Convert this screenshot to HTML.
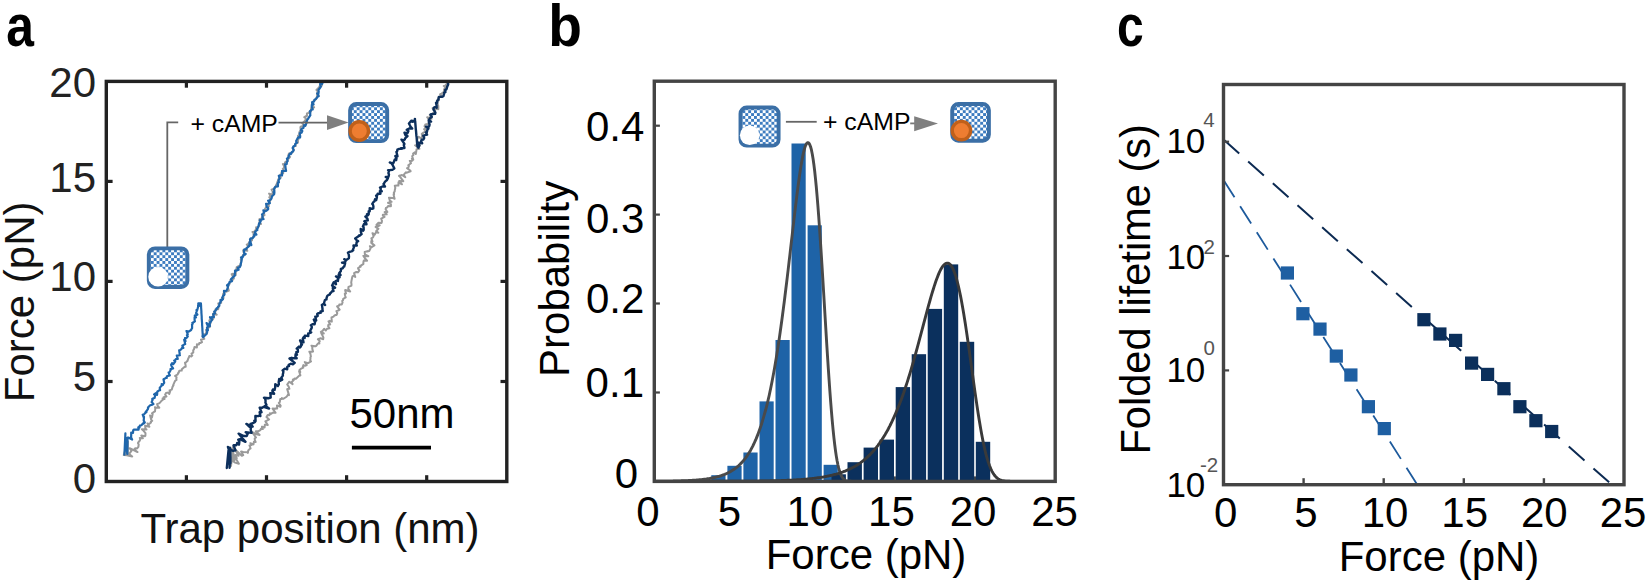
<!DOCTYPE html>
<html lang="en"><head><meta charset="utf-8"><title>Figure: cAMP force spectroscopy</title>
<style>html,body{margin:0;padding:0;background:#fff;}svg{display:block;}text{font-family:"Liberation Sans", sans-serif;}</style></head><body>
<svg width="1650" height="584" viewBox="0 0 1650 584">
<rect width="1650" height="584" fill="#fff"/>
<defs><pattern id="chk" width="5.8" height="5.8" patternUnits="userSpaceOnUse"><rect width="5.8" height="5.8" fill="#fff"/><rect width="2.9" height="2.9" fill="#3d7cc0"/><rect x="2.9" y="2.9" width="2.9" height="2.9" fill="#3d7cc0"/></pattern></defs>
<text transform="translate(6.3 46.0) scale(0.830 1)" x="0" y="0" font-size="60" font-weight="bold" fill="#000">a</text>
<text transform="translate(548.2 46.0) scale(0.920 1)" x="0" y="0" font-size="60" font-weight="bold" fill="#000">b</text>
<text transform="translate(1117.1 46.0) scale(0.800 1)" x="0" y="0" font-size="60" font-weight="bold" fill="#000">c</text>
<g fill="none" stroke-linejoin="round" stroke-linecap="round">
<path d="M126.4,454.6 L127.9,441.7 L127.7,454.9 L127.7,442.1 L123.8,455.1 L126.9,455.2 L132.2,456.6 L129.1,454.1 L130.1,452.6 L131.5,450.8 L129.6,448.2 L137.5,452.0 L134.2,449.6 L135.1,448.2 L137.1,448.4 L138.4,446.8 L138.7,444.4 L138.0,443.3 L138.1,442.7 L139.5,441.0 L140.2,439.8 L139.8,437.9 L142.9,438.2 L141.3,435.5 L145.0,436.3 L145.4,435.7 L145.5,433.2 L143.6,430.9 L141.9,429.2 L146.5,429.4 L145.4,428.5 L145.1,425.7 L149.4,426.7 L147.5,423.4 L149.2,424.1 L151.0,422.6 L150.8,421.9 L152.2,420.8 L151.2,419.7 L150.1,415.4 L152.0,417.4 L152.6,414.3 L152.0,413.3 L154.4,411.7 L155.0,411.3 L155.3,408.5 L155.0,407.2 L156.1,407.8 L159.3,407.7 L157.7,405.8 L157.1,404.2 L159.1,403.3 L160.2,402.4 L161.3,401.0 L162.9,399.7 L162.6,398.4 L164.6,399.0 L163.7,397.2 L166.5,396.5 L165.1,394.7 L166.0,393.1 L168.6,392.6 L169.3,394.0 L170.2,391.2 L169.6,390.4 L171.8,389.6 L172.5,386.9 L173.5,385.3 L173.1,385.1 L173.5,384.4 L174.7,381.7 L175.3,380.6 L176.5,379.9 L176.3,378.5 L176.6,377.3 L175.1,375.9 L177.4,374.7 L178.8,372.5 L177.9,373.3 L179.1,371.6 L179.3,370.8 L181.7,370.6 L181.8,369.2 L184.4,366.9 L185.7,366.8 L185.6,365.2 L185.0,362.8 L185.7,362.6 L187.5,360.7 L187.4,361.1 L188.4,358.2 L188.8,357.6 L189.4,355.9 L191.5,356.5 L192.3,355.5 L191.5,353.6 L193.1,352.7 L193.3,352.6 L193.2,350.4 L194.0,349.2 L194.5,347.0 L196.9,347.4 L196.9,344.2 L197.1,344.3 L198.9,344.4 L199.3,343.1 L200.7,342.9 L202.0,342.1 L201.0,339.7 L204.3,338.9 L202.6,336.5 L203.3,336.4 L203.7,334.3 L206.0,333.9 L206.1,333.8 L206.4,330.8 L206.1,330.2 L207.5,328.6 L207.8,328.3 L210.1,326.7 L209.0,324.4 L210.3,323.7 L210.6,322.7 L209.3,320.8 L210.3,318.8 L212.4,319.8 L213.6,318.1 L212.9,316.9 L213.0,313.7 L216.7,314.7 L215.6,313.6 L214.6,312.5 L215.4,311.7 L215.5,309.2 L218.2,309.2 L218.6,307.0 L218.8,306.5 L219.3,305.9 L218.3,303.5 L221.2,302.8 L220.7,302.4 L221.7,299.5 L222.1,298.7 L222.3,297.8 L223.6,297.9 L222.9,295.2 L223.3,293.6 L224.3,294.0 L223.8,291.5 L226.5,291.7 L228.8,290.6 L228.1,288.4 L227.6,286.5 L227.3,285.7 L229.2,284.6 L229.4,284.2 L229.8,282.7 L230.8,280.8 L230.4,280.0 L232.7,280.1 L233.2,278.0 L233.9,278.4 L231.7,274.2 L233.0,273.8 L235.7,275.0 L235.8,272.7 L235.6,271.1 L236.0,269.8 L236.5,268.4 L236.7,267.2 L240.0,265.4 L239.6,265.9 L240.9,264.6 L240.7,263.5 L241.3,260.3 L240.8,259.4 L241.6,259.1 L241.9,256.7 L242.5,256.4 L243.1,254.9 L244.7,255.2 L243.6,252.4 L243.2,250.3 L247.3,250.8 L246.4,248.0 L247.7,247.2 L248.4,246.3 L246.8,244.6 L247.7,244.3 L248.6,243.6 L248.8,242.6 L250.3,241.0 L252.0,240.4 L251.5,239.5 L252.6,237.7 L253.7,236.7 L253.5,234.4 L254.3,233.8 L252.5,232.0 L255.2,231.7 L254.6,231.2 L256.1,229.4 L256.1,227.2 L256.9,227.5 L258.8,226.3 L258.9,224.2 L261.1,223.9 L259.5,223.6 L259.5,219.0 L259.5,220.2 L261.5,218.3 L263.1,217.3 L262.1,216.6 L264.0,214.7 L264.5,215.2 L263.9,212.6 L264.3,211.1 L265.1,210.6 L265.1,208.5 L266.0,207.8 L266.9,205.6 L269.0,206.1 L268.1,205.5 L269.1,203.1 L269.2,202.6 L269.8,201.7 L270.9,199.1 L269.3,197.3 L270.6,196.3 L269.1,193.6 L272.3,194.6 L272.5,193.0 L273.3,192.7 L271.6,189.6 L275.0,188.2 L275.1,187.4 L274.6,187.5 L277.3,185.4 L275.9,185.4 L277.1,183.1 L277.2,182.4 L278.1,180.4 L278.3,179.3 L278.4,179.6 L280.8,177.8 L280.2,176.5 L280.3,174.7 L281.3,174.1 L281.5,172.4 L283.2,173.3 L283.3,169.2 L282.8,168.8 L283.6,168.7 L284.2,166.3 L282.9,164.0 L284.6,164.4 L285.5,161.7 L285.0,162.5 L287.5,160.7 L287.7,159.3 L287.8,159.6 L290.1,156.9 L288.2,155.9 L288.9,153.6 L291.6,153.6 L291.1,153.6 L293.0,151.5 L293.8,150.0 L293.1,148.8 L293.5,147.4 L294.6,145.8 L295.8,145.9 L295.7,145.0 L295.7,143.8 L297.9,142.6 L298.0,141.6 L298.1,139.4 L298.8,138.8 L298.0,135.8 L298.4,136.3 L299.0,135.6 L299.4,133.7 L299.4,132.1 L300.0,131.7 L300.8,131.1 L300.4,127.4 L300.6,126.7 L303.8,125.6 L303.8,125.3 L302.2,123.2 L303.9,121.9 L305.7,120.0 L305.5,119.8 L305.7,118.2 L304.3,117.1 L306.4,116.0 L307.0,116.0 L306.9,113.4 L308.4,113.0 L310.2,111.5 L311.1,111.2 L311.1,107.9 L311.5,108.5 L314.1,107.3 L312.8,105.7 L311.9,105.5 L312.0,102.7 L313.5,101.3 L314.1,100.4 L315.5,99.8 L316.2,98.7 L316.8,97.2 L317.2,94.9 L317.0,93.7 L317.1,93.5 L317.3,92.3 L317.9,89.4 L316.4,89.9 L317.9,88.6 L319.4,86.8 L319.4,86.5 L321.9,85.5 L320.6,83.3" stroke="#9a9a9a" stroke-width="2.0"/>
<path d="M124.4,454.6 L125.4,433.4 L124.7,451.7 L125.8,440.1 L127.3,454.0 L127.6,438.6 L126.1,441.5 L126.8,438.8 L127.5,437.5 L128.3,437.6 L132.1,439.5 L131.1,437.4 L131.2,435.0 L131.2,432.5 L133.0,432.8 L133.2,430.2 L133.7,429.7 L136.4,429.5 L138.6,429.7 L138.3,427.3 L139.5,427.6 L139.8,425.6 L141.4,425.2 L143.2,423.2 L143.8,423.6 L144.8,422.5 L143.7,420.6 L144.0,416.8 L143.8,417.6 L142.7,414.7 L143.2,415.2 L145.2,413.0 L146.4,412.2 L145.8,411.6 L146.8,410.8 L148.1,408.6 L148.0,407.5 L149.2,406.2 L150.2,405.3 L152.2,404.7 L153.4,404.1 L151.6,402.1 L152.6,399.9 L152.2,399.0 L153.2,398.3 L154.6,398.0 L155.2,395.2 L154.1,394.4 L155.9,393.2 L157.1,394.8 L157.3,391.7 L159.1,390.3 L160.1,390.1 L159.7,387.9 L160.9,386.4 L161.9,385.3 L161.7,384.2 L162.8,385.1 L163.2,384.1 L164.2,382.8 L163.5,379.2 L165.1,378.4 L165.7,378.0 L166.8,377.9 L166.8,376.3 L169.8,375.4 L169.3,374.5 L168.6,372.5 L169.5,372.2 L170.6,370.3 L170.5,369.1 L173.1,368.4 L171.5,366.0 L171.1,364.8 L172.1,363.2 L173.3,364.2 L175.2,361.5 L174.2,360.5 L175.0,360.4 L176.0,359.0 L177.8,359.0 L176.8,355.6 L178.4,355.5 L179.9,355.2 L179.7,354.2 L179.2,350.3 L180.1,350.0 L181.2,349.4 L182.1,347.8 L183.4,347.9 L182.3,345.7 L184.1,344.6 L185.2,344.1 L184.8,342.1 L184.2,339.9 L185.5,341.3 L185.0,338.1 L186.6,337.9 L187.8,336.3 L186.9,335.0 L187.8,334.3 L186.5,331.0 L188.7,331.6 L191.1,330.0 L192.0,328.2 L192.1,328.2 L192.1,325.5 L192.0,324.9 L192.8,323.5 L192.3,322.9 L193.9,322.0 L194.9,321.4 L194.6,320.0 L194.6,317.0 L196.0,317.3 L194.8,315.5 L197.4,314.6 L196.0,313.1 L196.8,311.4 L196.5,310.1 L197.2,310.2 L198.1,306.8 L198.1,305.1 L200.8,306.2 L198.3,303.4 L200.9,303.3 L201.0,304.6 L201.1,306.0 L201.1,307.3 L201.2,308.7 L201.3,310.0 L201.4,311.4 L201.4,312.7 L201.5,314.0 L201.6,315.4 L201.7,316.7 L201.7,318.1 L201.8,319.4 L201.9,320.8 L202.0,322.1 L202.1,323.4 L202.1,324.8 L202.2,326.1 L202.3,327.5 L202.4,328.8 L202.4,330.1 L202.5,331.5 L202.6,332.8 L202.7,334.2 L202.7,335.5 L202.8,336.9 L203.2,337.2 L202.5,336.0 L203.7,336.6 L204.9,335.5 L206.8,333.7 L206.9,332.8 L207.2,331.9 L206.8,329.3 L208.0,330.1 L207.0,327.4 L208.1,326.7 L206.6,323.0 L209.9,326.1 L209.7,322.3 L210.0,323.0 L212.1,319.6 L210.0,317.2 L212.4,317.9 L212.1,317.1 L214.0,317.0 L213.2,314.2 L215.0,313.2 L214.2,311.7 L215.0,311.0 L216.8,309.0 L216.5,308.4 L218.1,307.4 L218.1,306.6 L219.2,305.8 L219.5,303.6 L220.4,302.6 L220.5,299.8 L221.1,300.8 L221.8,300.2 L222.9,299.1 L222.2,297.7 L223.2,295.7 L224.3,295.0 L224.5,294.3 L224.0,290.9 L225.8,291.0 L226.5,290.6 L227.5,288.5 L227.7,288.1 L228.4,285.3 L227.0,285.4 L228.7,283.9 L229.4,282.8 L229.6,281.9 L232.0,281.1 L231.0,279.0 L232.6,277.7 L234.1,276.0 L234.0,276.4 L234.8,275.5 L234.7,274.1 L235.1,271.8 L235.0,270.7 L236.2,270.6 L238.6,269.8 L237.7,267.7 L239.8,267.1 L240.1,266.1 L240.6,265.8 L240.7,264.1 L241.3,262.0 L241.4,261.3 L241.8,258.8 L241.0,257.4 L242.6,257.4 L243.5,255.1 L245.7,254.0 L244.1,252.9 L244.0,250.2 L244.4,249.3 L246.0,249.4 L246.6,248.3 L248.3,246.7 L248.4,246.1 L249.3,246.2 L249.7,242.1 L251.4,245.0 L250.5,242.2 L250.0,239.4 L250.7,238.3 L252.6,238.3 L253.7,236.4 L254.3,236.4 L254.2,234.7 L256.4,234.6 L254.9,232.3 L256.3,230.6 L257.4,230.0 L257.0,229.2 L257.7,228.1 L258.8,225.3 L258.6,225.6 L259.1,223.1 L259.7,223.1 L260.7,221.3 L259.8,220.2 L263.6,219.0 L262.4,219.1 L262.6,216.1 L262.0,214.4 L262.8,213.8 L264.0,212.7 L263.4,210.3 L265.4,211.2 L267.0,210.3 L268.2,209.1 L268.1,207.6 L266.8,207.3 L266.1,203.9 L268.3,203.6 L269.9,203.2 L268.1,200.6 L269.4,200.6 L270.9,199.2 L271.5,198.5 L272.1,196.1 L273.4,195.0 L274.2,194.1 L273.6,192.1 L274.4,192.9 L274.3,189.6 L273.9,189.7 L274.5,188.1 L275.5,186.6 L277.9,186.4 L278.0,184.5 L277.6,184.2 L278.2,182.3 L278.9,182.4 L278.6,180.3 L279.7,178.5 L279.5,178.4 L278.8,175.8 L280.8,175.3 L282.0,175.5 L282.2,171.7 L282.0,171.1 L284.3,170.8 L286.1,170.9 L285.5,167.7 L285.5,166.9 L285.1,164.4 L286.6,164.2 L286.8,163.2 L286.9,161.9 L287.7,161.0 L286.9,158.7 L288.3,157.4 L288.3,158.1 L289.1,155.0 L290.2,153.4 L290.8,154.1 L291.7,152.2 L293.1,151.3 L293.7,150.1 L292.6,148.0 L293.5,146.3 L294.9,145.9 L295.3,143.8 L296.9,142.6 L296.3,142.8 L296.2,140.7 L296.8,139.7 L297.5,138.4 L298.8,137.1 L300.1,137.5 L300.2,136.2 L299.7,133.2 L301.6,132.7 L302.3,131.0 L300.7,130.6 L301.3,129.4 L302.2,128.4 L303.4,127.9 L304.1,125.1 L305.4,125.8 L306.6,122.7 L305.7,122.3 L306.5,122.2 L307.5,119.2 L308.2,118.8 L308.4,118.0 L308.8,117.6 L310.4,115.2 L310.2,114.5 L310.3,111.6 L309.8,111.4 L311.5,109.8 L312.7,109.5 L312.3,107.9 L311.7,106.5 L312.0,104.2 L313.6,104.4 L312.1,102.2 L314.1,101.4 L314.5,99.7 L315.8,99.1 L316.5,98.2 L317.5,96.9 L318.8,96.0 L317.2,93.5 L318.3,94.3 L318.7,91.5 L318.6,90.8 L318.5,90.0 L320.9,86.6 L320.6,86.2 L320.1,84.0 L322.1,83.9 L322.4,83.3" stroke="#1f66ab" stroke-width="2.2"/>
<path d="M231.0,465.9 L232.5,453.5 L232.1,461.3 L232.6,447.3 L234.4,460.3 L231.1,459.7 L235.1,462.6 L238.9,463.7 L233.5,454.8 L236.8,458.2 L235.3,455.1 L238.6,455.8 L234.4,448.8 L241.8,455.8 L243.2,455.1 L241.1,451.5 L243.3,451.9 L247.7,452.2 L247.9,452.9 L248.2,450.5 L250.3,448.4 L250.6,448.5 L249.5,445.4 L251.6,445.1 L250.4,443.2 L253.5,444.4 L253.9,441.7 L255.7,442.1 L254.8,439.9 L254.7,438.3 L256.0,437.5 L251.9,431.8 L256.5,434.3 L259.7,434.9 L255.7,431.3 L258.5,431.2 L260.4,430.1 L260.9,428.8 L262.8,429.1 L262.0,426.6 L264.6,427.5 L264.8,424.7 L266.0,424.5 L267.8,425.0 L265.4,421.4 L267.4,420.3 L269.1,419.4 L266.5,417.1 L267.7,414.9 L269.3,415.2 L269.9,413.2 L270.2,414.4 L272.8,412.7 L275.6,412.8 L272.6,408.6 L275.7,408.7 L275.3,408.6 L277.2,408.5 L277.0,405.4 L280.3,406.8 L280.7,405.7 L278.8,402.9 L279.8,402.0 L280.3,398.9 L281.9,398.9 L281.9,398.1 L283.2,398.8 L286.2,397.0 L286.8,396.3 L287.8,395.0 L287.9,394.5 L289.0,395.1 L287.2,389.1 L287.9,389.0 L289.4,388.8 L288.7,386.6 L287.2,384.5 L289.3,381.7 L292.6,384.1 L291.5,382.2 L293.8,380.1 L292.9,379.5 L293.9,379.3 L294.7,378.5 L295.9,378.9 L297.8,377.0 L299.4,375.6 L300.4,375.4 L299.1,371.2 L300.3,372.1 L299.5,370.0 L300.7,368.9 L303.3,367.7 L302.7,367.4 L303.4,365.1 L304.9,365.8 L306.8,365.0 L304.8,362.1 L308.1,363.1 L311.0,361.4 L310.2,360.4 L310.5,358.7 L310.4,357.3 L310.9,356.7 L310.4,353.7 L309.4,351.7 L312.1,351.8 L313.0,351.6 L312.3,348.8 L312.3,347.0 L311.5,345.7 L315.4,346.3 L316.2,345.9 L317.9,343.5 L319.4,343.5 L318.8,342.9 L319.8,341.1 L317.9,339.2 L320.6,338.3 L323.2,339.2 L323.4,337.4 L321.3,333.3 L323.8,333.4 L320.9,331.8 L322.6,330.8 L324.1,328.8 L325.8,330.5 L327.0,328.7 L329.5,328.2 L328.1,326.1 L328.4,324.8 L330.2,324.5 L328.5,321.3 L329.7,320.8 L331.8,321.7 L331.6,318.9 L331.5,317.5 L333.5,316.6 L334.3,315.7 L335.6,315.0 L336.6,314.9 L337.3,313.1 L336.4,311.1 L338.9,310.2 L339.6,309.7 L338.6,308.3 L337.1,306.4 L339.2,305.5 L339.3,304.4 L341.8,304.4 L342.6,302.3 L342.2,301.0 L343.0,300.3 L343.2,298.8 L345.7,297.4 L345.2,296.0 L344.8,293.8 L345.1,293.9 L346.0,293.4 L345.2,290.6 L345.2,290.0 L350.2,291.5 L348.3,288.9 L348.5,286.9 L351.1,285.8 L351.4,285.8 L351.5,284.1 L351.2,282.5 L351.4,281.4 L351.7,279.7 L352.1,277.7 L352.5,276.4 L353.4,275.7 L355.3,277.0 L354.1,273.2 L356.3,272.0 L357.9,272.4 L358.7,271.3 L359.4,270.4 L358.1,268.7 L358.2,267.9 L360.7,266.6 L360.0,266.2 L362.8,264.4 L363.4,264.1 L363.4,261.9 L363.8,260.5 L367.1,260.7 L365.1,258.5 L363.4,255.9 L368.3,256.2 L364.9,254.5 L364.7,252.0 L367.6,251.1 L367.1,251.5 L369.2,251.0 L370.7,248.0 L369.9,246.2 L371.7,247.1 L374.0,245.7 L374.4,245.4 L371.3,242.9 L371.3,240.9 L372.5,241.6 L371.4,238.4 L373.0,237.4 L373.6,236.1 L372.5,233.2 L374.8,234.6 L376.0,232.1 L378.3,232.7 L376.3,231.0 L378.4,228.8 L375.6,227.0 L378.6,226.0 L379.7,225.3 L376.4,225.0 L378.5,222.7 L381.5,223.0 L381.8,222.1 L382.0,220.9 L381.2,218.7 L384.5,216.8 L382.8,215.5 L382.9,214.7 L386.7,214.3 L384.6,212.1 L387.4,212.0 L385.6,209.3 L385.9,208.0 L386.9,207.6 L388.2,206.0 L390.9,206.2 L390.9,204.1 L388.0,202.8 L391.6,201.9 L389.8,200.6 L389.0,197.7 L393.0,197.9 L394.6,198.8 L393.6,194.7 L394.0,193.1 L394.1,194.1 L393.8,192.8 L394.7,191.4 L394.8,190.1 L395.3,188.0 L394.8,185.8 L397.0,185.6 L398.4,185.6 L398.5,182.3 L402.0,184.3 L399.2,181.0 L403.3,181.2 L399.3,175.8 L399.0,175.9 L402.0,175.0 L405.3,177.3 L403.7,174.8 L405.8,172.3 L406.4,172.7 L410.6,171.4 L410.5,170.8 L407.1,168.1 L408.0,168.5 L408.9,165.9 L408.3,165.3 L411.0,163.2 L409.8,160.9 L411.7,160.9 L412.6,160.3 L411.9,158.7 L413.3,159.7 L412.2,156.3 L413.5,154.9 L413.1,153.6 L414.8,152.4 L415.8,154.0 L416.2,151.9 L416.6,149.2 L419.4,148.8 L415.1,145.3 L419.0,145.7 L420.0,145.5 L418.1,143.1 L417.1,140.3 L417.5,138.7 L418.4,136.7 L421.4,138.6 L422.2,136.0 L421.8,133.7 L421.7,134.0 L423.5,132.6 L424.5,132.0 L426.8,131.8 L424.1,129.2 L425.7,128.4 L424.5,126.0 L424.9,125.5 L425.3,124.5 L429.3,123.7 L428.8,122.5 L429.5,121.7 L428.9,119.6 L427.2,117.2 L431.5,118.8 L429.8,115.0 L431.0,114.5 L432.6,113.7 L433.4,112.9 L434.9,112.8 L435.3,109.1 L432.6,108.1 L434.1,108.1 L438.3,109.3 L438.3,105.9 L437.5,104.0 L436.6,103.5 L437.2,101.8 L438.9,100.3 L437.6,99.6 L438.6,97.4 L438.7,97.1 L441.3,96.7 L440.1,94.3 L441.5,93.8 L442.7,92.6 L444.1,92.9 L444.0,89.7 L444.8,88.1 L446.1,87.9 L443.8,86.0 L446.5,86.1 L445.4,85.3 L447.2,83.3" stroke="#9a9a9a" stroke-width="2.0"/>
<path d="M226.8,468.0 L228.5,450.4 L228.3,463.6 L229.9,447.6 L229.6,467.8 L230.4,448.8 L230.4,463.2 L229.6,452.1 L227.9,446.9 L231.5,450.2 L233.1,450.8 L235.5,450.4 L233.5,445.3 L236.2,445.2 L236.8,444.5 L237.2,442.9 L239.0,444.7 L239.4,441.6 L238.2,439.7 L240.0,439.2 L245.5,441.8 L242.2,438.1 L238.6,433.6 L243.8,436.0 L246.7,436.0 L247.8,433.6 L245.7,432.2 L247.6,432.4 L251.6,432.9 L250.7,429.7 L250.9,428.0 L246.4,423.9 L251.7,426.7 L252.7,426.6 L250.6,423.8 L252.8,423.2 L255.1,421.9 L254.3,420.8 L255.6,421.0 L255.4,417.4 L255.4,416.0 L258.4,416.1 L259.3,415.4 L260.4,416.1 L259.6,412.1 L261.2,411.7 L261.5,412.3 L259.7,407.7 L262.2,407.8 L263.7,406.8 L269.1,408.5 L265.1,405.7 L266.5,405.0 L265.4,402.6 L265.6,400.9 L265.1,398.5 L264.0,397.7 L268.9,398.2 L269.5,397.9 L270.7,397.5 L270.5,394.4 L270.2,393.1 L274.1,393.7 L272.3,390.9 L272.9,389.5 L274.6,389.9 L275.2,387.2 L275.2,386.5 L275.3,384.1 L277.9,386.0 L278.9,384.1 L278.7,382.4 L278.7,381.9 L279.2,378.9 L280.3,380.7 L282.2,379.6 L281.3,377.8 L282.9,375.6 L282.8,374.1 L283.2,373.1 L283.4,371.0 L282.6,370.5 L284.8,368.7 L287.2,369.3 L287.2,367.0 L288.3,366.1 L289.1,366.1 L288.7,364.7 L290.7,363.7 L292.9,364.3 L294.7,362.8 L289.5,358.5 L291.7,357.8 L292.5,358.3 L296.7,358.3 L295.4,356.5 L295.6,354.2 L297.0,354.8 L296.3,352.1 L297.9,351.9 L297.8,349.3 L296.7,348.6 L298.9,346.5 L299.8,347.6 L300.9,346.5 L301.2,344.2 L302.0,344.7 L300.1,340.4 L303.5,342.3 L302.8,338.7 L303.7,337.1 L304.7,337.9 L304.8,335.6 L308.3,336.0 L308.2,333.5 L308.7,333.5 L311.2,332.3 L310.2,332.0 L310.0,330.9 L310.8,329.6 L311.8,327.6 L311.6,325.0 L310.8,325.2 L312.8,324.1 L314.6,324.2 L315.0,322.2 L313.8,319.5 L316.2,320.5 L315.3,316.7 L315.5,317.2 L317.7,315.9 L317.2,314.1 L317.7,313.5 L320.9,312.7 L320.5,311.4 L322.8,311.0 L322.4,310.9 L322.5,308.9 L322.1,305.8 L321.8,304.9 L323.7,303.7 L325.1,305.0 L323.9,303.5 L324.9,300.0 L326.5,299.4 L326.5,298.4 L327.1,296.2 L327.7,295.5 L329.8,294.4 L330.0,293.5 L330.9,292.8 L332.1,291.3 L333.5,291.1 L332.9,288.9 L332.8,288.0 L335.1,287.7 L332.1,285.6 L333.7,282.3 L336.0,284.3 L335.4,281.3 L337.3,280.3 L337.9,281.0 L338.3,278.4 L336.0,276.4 L339.6,277.2 L338.7,274.4 L340.6,275.1 L339.3,273.0 L340.9,271.0 L340.8,269.0 L341.8,268.7 L342.8,268.1 L343.4,267.1 L344.2,266.6 L345.1,263.4 L342.0,262.7 L345.1,262.3 L346.0,260.1 L344.2,259.2 L346.3,260.0 L348.8,258.3 L349.0,256.5 L348.7,254.2 L347.9,252.7 L350.3,251.6 L351.5,251.4 L353.2,250.2 L352.8,250.0 L354.0,247.1 L353.5,246.0 L353.5,245.4 L356.8,245.6 L356.3,245.0 L356.6,242.3 L358.2,241.1 L357.8,241.5 L355.2,238.5 L358.5,236.3 L358.9,235.4 L359.5,235.8 L361.6,234.1 L360.9,232.1 L360.7,229.0 L363.2,230.7 L363.7,229.9 L363.6,227.0 L362.9,226.4 L364.0,224.0 L366.5,224.4 L366.1,222.8 L364.3,221.2 L367.8,220.4 L367.4,218.6 L365.4,216.6 L368.0,215.3 L367.0,214.2 L368.7,214.4 L368.7,211.2 L369.7,211.2 L369.7,208.1 L372.1,208.8 L373.3,208.4 L373.4,206.2 L373.0,204.7 L372.3,203.9 L373.4,202.1 L374.5,201.2 L375.0,199.3 L376.1,200.3 L376.9,197.5 L376.1,195.5 L377.0,195.8 L377.7,193.6 L380.5,193.7 L379.9,191.2 L381.8,191.2 L380.5,190.2 L380.8,188.9 L380.0,187.5 L382.4,186.5 L385.0,186.6 L383.5,184.0 L384.1,183.3 L384.8,182.0 L385.3,181.4 L387.0,180.0 L387.9,178.2 L385.7,177.0 L388.5,176.8 L389.0,174.6 L388.4,173.0 L389.1,170.6 L388.1,170.1 L390.0,170.1 L392.4,169.7 L394.3,168.4 L392.5,164.8 L391.6,163.4 L389.8,162.5 L392.9,163.6 L393.5,162.8 L394.8,159.4 L396.2,160.1 L396.5,158.4 L395.3,156.0 L397.5,156.3 L396.9,153.7 L396.4,151.9 L397.0,151.7 L397.4,149.7 L399.2,148.9 L401.7,148.9 L400.8,148.2 L404.5,148.0 L403.8,144.9 L404.4,144.0 L403.6,142.7 L401.5,139.6 L402.9,140.6 L404.8,139.5 L405.1,138.4 L407.5,136.1 L405.5,135.2 L404.5,132.7 L407.4,133.2 L408.4,130.9 L406.7,129.8 L409.6,128.3 L412.2,128.6 L410.4,126.4 L410.0,125.5 L408.9,123.5 L410.8,121.4 L412.9,121.8 L411.2,120.8 L415.0,121.1 L414.9,118.9 L415.0,120.2 L415.1,121.5 L415.3,122.8 L415.4,124.1 L415.5,125.4 L415.6,126.7 L415.7,128.0 L415.8,129.3 L416.0,130.6 L416.1,131.9 L416.2,133.2 L416.3,134.4 L416.4,135.7 L416.6,137.0 L416.7,138.3 L416.8,139.6 L416.9,140.9 L417.0,142.2 L417.1,143.5 L417.3,144.8 L417.4,146.1 L418.3,147.7 L418.8,147.1 L419.3,145.7 L418.8,142.8 L422.2,143.4 L421.1,141.3 L421.7,139.8 L423.4,139.6 L424.2,137.9 L423.7,136.8 L423.3,135.7 L427.1,134.7 L425.9,132.4 L426.6,133.2 L427.3,130.3 L427.4,129.6 L428.4,128.6 L426.1,126.6 L429.1,126.5 L429.6,124.7 L428.8,121.7 L431.1,121.6 L428.7,120.4 L429.8,118.6 L430.5,117.8 L431.8,116.9 L430.5,114.5 L432.6,114.0 L435.1,113.9 L435.4,112.7 L433.4,109.3 L434.0,107.6 L436.5,106.4 L436.7,107.7 L436.5,105.0 L436.0,102.8 L437.3,102.9 L437.0,101.0 L438.6,99.4 L438.7,97.7 L438.9,96.9 L442.0,96.8 L443.4,96.2 L444.0,94.1 L444.4,92.4 L444.2,92.6 L445.4,92.2 L445.2,89.9 L446.5,89.3 L447.0,87.5 L447.3,86.4 L448.2,84.5 L448.1,83.3" stroke="#0c2f5c" stroke-width="2.4"/>
</g>
<rect x="106.3" y="81.4" width="400.5" height="400.1" fill="none" stroke="#222" stroke-width="3.4"/>
<line x1="186.4" y1="81.4" x2="186.4" y2="87.7" stroke="#222" stroke-width="3.2"/>
<line x1="186.4" y1="481.5" x2="186.4" y2="475.2" stroke="#222" stroke-width="3.2"/>
<line x1="266.5" y1="81.4" x2="266.5" y2="87.7" stroke="#222" stroke-width="3.2"/>
<line x1="266.5" y1="481.5" x2="266.5" y2="475.2" stroke="#222" stroke-width="3.2"/>
<line x1="346.6" y1="81.4" x2="346.6" y2="87.7" stroke="#222" stroke-width="3.2"/>
<line x1="346.6" y1="481.5" x2="346.6" y2="475.2" stroke="#222" stroke-width="3.2"/>
<line x1="426.7" y1="81.4" x2="426.7" y2="87.7" stroke="#222" stroke-width="3.2"/>
<line x1="426.7" y1="481.5" x2="426.7" y2="475.2" stroke="#222" stroke-width="3.2"/>
<line x1="106.3" y1="381.5" x2="112.6" y2="381.5" stroke="#222" stroke-width="3.2"/>
<line x1="506.8" y1="381.5" x2="500.5" y2="381.5" stroke="#222" stroke-width="3.2"/>
<line x1="106.3" y1="281.4" x2="112.6" y2="281.4" stroke="#222" stroke-width="3.2"/>
<line x1="506.8" y1="281.4" x2="500.5" y2="281.4" stroke="#222" stroke-width="3.2"/>
<line x1="106.3" y1="181.4" x2="112.6" y2="181.4" stroke="#222" stroke-width="3.2"/>
<line x1="506.8" y1="181.4" x2="500.5" y2="181.4" stroke="#222" stroke-width="3.2"/>
<text x="96" y="493.2" font-size="42" text-anchor="end" fill="#222">0</text>
<text x="96" y="391.3" font-size="42" text-anchor="end" fill="#222">5</text>
<text x="96" y="291.3" font-size="42" text-anchor="end" fill="#222">10</text>
<text x="96" y="192" font-size="42" text-anchor="end" fill="#222">15</text>
<text x="96" y="96.8" font-size="42" text-anchor="end" fill="#222">20</text>
<text x="34.3" y="301.9" font-size="42" text-anchor="middle" fill="#111" transform="rotate(-90 34.3 301.9)">Force (pN)</text>
<text x="310" y="542.7" font-size="42" text-anchor="middle" fill="#111">Trap position (nm)</text>
<text x="349.5" y="428.3" font-size="42" fill="#000">50nm</text>
<line x1="351.9" y1="447.7" x2="431" y2="447.7" stroke="#000" stroke-width="3.8"/>
<path d="M178.2,122.3 H167.3 V247" fill="none" stroke="#666" stroke-width="1.8"/>
<text x="190.4" y="132.1" font-size="24.8" fill="#000">+ cAMP</text>
<line x1="278.5" y1="122.6" x2="328" y2="122.6" stroke="#666" stroke-width="1.8"/>
<path d="M327.0,115.2 L348.6,122.6 L327.0,130 Z" fill="#7f7f7f"/>
<rect x="148.8" y="248.4" width="38.6" height="38.6" rx="6.2" ry="6.2" fill="url(#chk)" stroke="#3b6fa6" stroke-width="3.9"/>
<circle cx="158.1" cy="276.8" r="9.8" fill="#fff"/>
<rect x="350.1" y="104" width="37.1" height="37.1" rx="6.2" ry="6.2" fill="url(#chk)" stroke="#3b6fa6" stroke-width="3.9"/>
<circle cx="359.3" cy="131" r="9.2" fill="#ee7d31" stroke="#c0601a" stroke-width="3.4"/>
<line x1="734.5" y1="481.4" x2="734.5" y2="476.4" stroke="#444" stroke-width="2.2"/>
<line x1="814.7" y1="481.4" x2="814.7" y2="476.4" stroke="#444" stroke-width="2.2"/>
<line x1="894.8" y1="481.4" x2="894.8" y2="476.4" stroke="#444" stroke-width="2.2"/>
<line x1="975" y1="481.4" x2="975" y2="476.4" stroke="#444" stroke-width="2.2"/>
<rect x="711.3" y="475.2" width="14.2" height="6.2" fill="#1e63a7"/>
<rect x="727.4" y="465.8" width="14.2" height="15.6" fill="#1e63a7"/>
<rect x="743.4" y="452.5" width="14.2" height="28.9" fill="#1e63a7"/>
<rect x="759.5" y="401.4" width="14.2" height="80" fill="#1e63a7"/>
<rect x="775.5" y="340" width="14.2" height="141.4" fill="#1e63a7"/>
<rect x="791.5" y="143.5" width="14.2" height="337.9" fill="#1e63a7"/>
<rect x="807.6" y="225.3" width="14.2" height="256.1" fill="#1e63a7"/>
<rect x="823.6" y="464.8" width="14.2" height="16.6" fill="#1e63a7"/>
<rect x="831.5" y="474.3" width="14.4" height="7.1" fill="#0b305d"/>
<rect x="847.5" y="462.2" width="14.4" height="19.2" fill="#0b305d"/>
<rect x="863.6" y="447.6" width="14.4" height="33.8" fill="#0b305d"/>
<rect x="879.6" y="439.6" width="14.4" height="41.8" fill="#0b305d"/>
<rect x="895.7" y="387.1" width="14.4" height="94.3" fill="#0b305d"/>
<rect x="911.7" y="354.2" width="14.4" height="127.2" fill="#0b305d"/>
<rect x="927.7" y="308.9" width="14.4" height="172.5" fill="#0b305d"/>
<rect x="943.8" y="264.4" width="14.4" height="217" fill="#0b305d"/>
<rect x="959.8" y="341.8" width="14.4" height="139.6" fill="#0b305d"/>
<rect x="975.8" y="441.8" width="14.4" height="39.6" fill="#0b305d"/>
<path d="M654.3,481.3 L655.1,481.3 L655.9,481.3 L656.7,481.3 L657.5,481.3 L658.3,481.3 L659.1,481.2 L659.9,481.2 L660.7,481.2 L661.5,481.2 L662.3,481.2 L663.1,481.2 L663.9,481.2 L664.7,481.2 L665.5,481.2 L666.3,481.2 L667.1,481.2 L667.9,481.1 L668.7,481.1 L669.5,481.1 L670.3,481.1 L671.1,481.1 L671.9,481.1 L672.7,481.1 L673.5,481.0 L674.3,481.0 L675.1,481.0 L675.9,481.0 L676.8,481.0 L677.6,480.9 L678.4,480.9 L679.2,480.9 L680.0,480.9 L680.8,480.9 L681.6,480.8 L682.4,480.8 L683.2,480.8 L684.0,480.7 L684.8,480.7 L685.6,480.7 L686.4,480.6 L687.2,480.6 L688.0,480.6 L688.8,480.5 L689.6,480.5 L690.4,480.4 L691.2,480.4 L692.0,480.4 L692.8,480.3 L693.6,480.2 L694.4,480.2 L695.2,480.1 L696.0,480.1 L696.8,480.0 L697.6,479.9 L698.4,479.9 L699.2,479.8 L700.0,479.7 L700.8,479.6 L701.6,479.6 L702.4,479.5 L703.2,479.4 L704.0,479.3 L704.8,479.2 L705.6,479.1 L706.4,479.0 L707.2,478.8 L708.0,478.7 L708.8,478.6 L709.6,478.5 L710.4,478.3 L711.2,478.2 L712.0,478.0 L712.8,477.9 L713.6,477.7 L714.4,477.5 L715.2,477.3 L716.0,477.1 L716.8,476.9 L717.6,476.7 L718.4,476.5 L719.2,476.3 L720.0,476.0 L720.8,475.8 L721.7,475.5 L722.5,475.2 L723.3,474.9 L724.1,474.6 L724.9,474.3 L725.7,473.9 L726.5,473.6 L727.3,473.2 L728.1,472.8 L728.9,472.4 L729.7,472.0 L730.5,471.5 L731.3,471.1 L732.1,470.6 L732.9,470.1 L733.7,469.5 L734.5,469.0 L735.3,468.4 L736.1,467.8 L736.9,467.1 L737.7,466.5 L738.5,465.8 L739.3,465.0 L740.1,464.2 L740.9,463.4 L741.7,462.6 L742.5,461.7 L743.3,460.8 L744.1,459.8 L744.9,458.8 L745.7,457.8 L746.5,456.7 L747.3,455.5 L748.1,454.3 L748.9,453.0 L749.7,451.7 L750.5,450.4 L751.3,448.9 L752.1,447.4 L752.9,445.9 L753.7,444.2 L754.5,442.5 L755.3,440.7 L756.1,438.9 L756.9,436.9 L757.7,434.9 L758.5,432.8 L759.3,430.6 L760.1,428.3 L760.9,426.0 L761.7,423.5 L762.5,420.9 L763.3,418.2 L764.1,415.4 L764.9,412.5 L765.8,409.5 L766.6,406.3 L767.4,403.1 L768.2,399.7 L769.0,396.2 L769.8,392.5 L770.6,388.7 L771.4,384.8 L772.2,380.7 L773.0,376.5 L773.8,372.2 L774.6,367.7 L775.4,363.0 L776.2,358.2 L777.0,353.3 L777.8,348.2 L778.6,343.0 L779.4,337.6 L780.2,332.0 L781.0,326.3 L781.8,320.5 L782.6,314.5 L783.4,308.4 L784.2,302.2 L785.0,295.8 L785.8,289.3 L786.6,282.8 L787.4,276.1 L788.2,269.3 L789.0,262.5 L789.8,255.6 L790.6,248.7 L791.4,241.7 L792.2,234.8 L793.0,227.8 L793.8,220.9 L794.6,214.1 L795.4,207.4 L796.2,200.8 L797.0,194.4 L797.8,188.2 L798.6,182.2 L799.4,176.4 L800.2,171.0 L801.0,165.9 L801.8,161.2 L802.6,156.9 L803.4,153.1 L804.2,149.8 L805.0,147.1 L805.8,145.0 L806.6,143.5 L807.4,142.7 L808.2,142.6 L809.0,143.3 L809.8,144.8 L810.7,147.1 L811.5,150.2 L812.3,154.2 L813.1,159.0 L813.9,164.8 L814.7,171.3 L815.5,178.8 L816.3,187.0 L817.1,196.1 L817.9,205.9 L818.7,216.4 L819.5,227.6 L820.3,239.3 L821.1,251.5 L821.9,264.2 L822.7,277.2 L823.5,290.3 L824.3,303.7 L825.1,317.0 L825.9,330.2 L826.7,343.3 L827.5,356.0 L828.3,368.3 L829.1,380.2 L829.9,391.5 L830.7,402.2 L831.5,412.2 L832.3,421.4 L833.1,429.9 L833.9,437.6 L834.7,444.5 L835.5,450.7 L836.3,456.1 L837.1,460.8 L837.9,464.8 L838.7,468.2 L839.5,471.1 L840.3,473.4 L841.1,475.3 L841.9,476.8 L842.7,478.0 L843.5,478.9 L844.3,479.7 L845.1,480.2 L845.9,480.6 L846.7,480.8 L847.5,481.0 L848.3,481.2 L849.1,481.2 L849.9,481.3 L850.7,481.3 L851.5,481.4 L852.3,481.4 L853.1,481.4 L853.9,481.4 L854.8,481.4 L855.6,481.4 L856.4,481.4 L857.2,481.4 L858.0,481.4 L858.8,481.4 L859.6,481.4 L860.4,481.4 L861.2,481.4 L862.0,481.4 L862.8,481.4 L863.6,481.4 L864.4,481.4 L865.2,481.4 L866.0,481.4 L866.8,481.4 L867.6,481.4 L868.4,481.4 L869.2,481.4 L870.0,481.4 L870.8,481.4 L871.6,481.4 L872.4,481.4 L873.2,481.4 L874.0,481.4 L874.8,481.4 L875.6,481.4 L876.4,481.4 L877.2,481.4 L878.0,481.4 L878.8,481.4 L879.6,481.4 L880.4,481.4 L881.2,481.4 L882.0,481.4 L882.8,481.4 L883.6,481.4 L884.4,481.4 L885.2,481.4 L886.0,481.4 L886.8,481.4 L887.6,481.4 L888.4,481.4 L889.2,481.4 L890.0,481.4 L890.8,481.4 L891.6,481.4 L892.4,481.4 L893.2,481.4 L894.0,481.4 L894.8,481.4 L895.6,481.4 L896.4,481.4 L897.2,481.4 L898.0,481.4 L898.8,481.4 L899.7,481.4 L900.5,481.4 L901.3,481.4 L902.1,481.4 L902.9,481.4 L903.7,481.4 L904.5,481.4 L905.3,481.4 L906.1,481.4 L906.9,481.4 L907.7,481.4 L908.5,481.4 L909.3,481.4 L910.1,481.4 L910.9,481.4 L911.7,481.4 L912.5,481.4 L913.3,481.4 L914.1,481.4 L914.9,481.4 L915.7,481.4 L916.5,481.4 L917.3,481.4 L918.1,481.4 L918.9,481.4 L919.7,481.4 L920.5,481.4 L921.3,481.4 L922.1,481.4 L922.9,481.4 L923.7,481.4 L924.5,481.4 L925.3,481.4 L926.1,481.4 L926.9,481.4 L927.7,481.4 L928.5,481.4 L929.3,481.4 L930.1,481.4 L930.9,481.4 L931.7,481.4 L932.5,481.4 L933.3,481.4 L934.1,481.4 L934.9,481.4 L935.7,481.4 L936.5,481.4 L937.3,481.4 L938.1,481.4 L938.9,481.4 L939.7,481.4 L940.5,481.4 L941.3,481.4 L942.1,481.4 L942.9,481.4 L943.7,481.4 L944.6,481.4 L945.4,481.4 L946.2,481.4 L947.0,481.4 L947.8,481.4 L948.6,481.4 L949.4,481.4 L950.2,481.4 L951.0,481.4 L951.8,481.4 L952.6,481.4 L953.4,481.4 L954.2,481.4 L955.0,481.4 L955.8,481.4 L956.6,481.4 L957.4,481.4 L958.2,481.4 L959.0,481.4 L959.8,481.4 L960.6,481.4 L961.4,481.4 L962.2,481.4 L963.0,481.4 L963.8,481.4 L964.6,481.4 L965.4,481.4 L966.2,481.4 L967.0,481.4 L967.8,481.4 L968.6,481.4 L969.4,481.4 L970.2,481.4 L971.0,481.4 L971.8,481.4 L972.6,481.4 L973.4,481.4 L974.2,481.4 L975.0,481.4 L975.8,481.4 L976.6,481.4 L977.4,481.4 L978.2,481.4 L979.0,481.4 L979.8,481.4 L980.6,481.4 L981.4,481.4 L982.2,481.4 L983.0,481.4 L983.8,481.4 L984.6,481.4 L985.4,481.4 L986.2,481.4 L987.0,481.4 L987.8,481.4 L988.7,481.4 L989.5,481.4 L990.3,481.4 L991.1,481.4 L991.9,481.4 L992.7,481.4 L993.5,481.4 L994.3,481.4 L995.1,481.4 L995.9,481.4 L996.7,481.4 L997.5,481.4 L998.3,481.4 L999.1,481.4 L999.9,481.4 L1000.7,481.4 L1001.5,481.4 L1002.3,481.4 L1003.1,481.4 L1003.9,481.4 L1004.7,481.4 L1005.5,481.4 L1006.3,481.4 L1007.1,481.4 L1007.9,481.4 L1008.7,481.4 L1009.5,481.4 L1010.3,481.4 L1011.1,481.4 L1011.9,481.4 L1012.7,481.4 L1013.5,481.4 L1014.3,481.4 L1015.1,481.4 L1015.9,481.4 L1016.7,481.4 L1017.5,481.4 L1018.3,481.4 L1019.1,481.4 L1019.9,481.4 L1020.7,481.4 L1021.5,481.4 L1022.3,481.4 L1023.1,481.4 L1023.9,481.4 L1024.7,481.4 L1025.5,481.4 L1026.3,481.4 L1027.1,481.4 L1027.9,481.4 L1028.7,481.4 L1029.5,481.4 L1030.3,481.4 L1031.1,481.4 L1031.9,481.4 L1032.7,481.4 L1033.6,481.4 L1034.4,481.4 L1035.2,481.4 L1036.0,481.4 L1036.8,481.4 L1037.6,481.4 L1038.4,481.4 L1039.2,481.4 L1040.0,481.4 L1040.8,481.4 L1041.6,481.4 L1042.4,481.4 L1043.2,481.4 L1044.0,481.4 L1044.8,481.4 L1045.6,481.4 L1046.4,481.4 L1047.2,481.4 L1048.0,481.4 L1048.8,481.4 L1049.6,481.4 L1050.4,481.4 L1051.2,481.4 L1052.0,481.4 L1052.8,481.4 L1053.6,481.4 L1054.4,481.4 L1055.2,481.4" fill="none" stroke="#4a4a4a" stroke-width="2.9" stroke-linejoin="round"/>
<path d="M654.3,481.4 L655.1,481.4 L655.9,481.4 L656.7,481.4 L657.5,481.4 L658.3,481.4 L659.1,481.4 L659.9,481.4 L660.7,481.4 L661.5,481.4 L662.3,481.4 L663.1,481.4 L663.9,481.4 L664.7,481.4 L665.5,481.4 L666.3,481.4 L667.1,481.4 L667.9,481.4 L668.7,481.4 L669.5,481.4 L670.3,481.4 L671.1,481.4 L671.9,481.4 L672.7,481.4 L673.5,481.4 L674.3,481.4 L675.1,481.4 L675.9,481.4 L676.8,481.4 L677.6,481.4 L678.4,481.4 L679.2,481.4 L680.0,481.4 L680.8,481.4 L681.6,481.4 L682.4,481.4 L683.2,481.4 L684.0,481.4 L684.8,481.4 L685.6,481.4 L686.4,481.4 L687.2,481.4 L688.0,481.4 L688.8,481.4 L689.6,481.4 L690.4,481.4 L691.2,481.4 L692.0,481.4 L692.8,481.4 L693.6,481.4 L694.4,481.4 L695.2,481.4 L696.0,481.4 L696.8,481.4 L697.6,481.4 L698.4,481.4 L699.2,481.4 L700.0,481.4 L700.8,481.4 L701.6,481.4 L702.4,481.4 L703.2,481.4 L704.0,481.4 L704.8,481.4 L705.6,481.4 L706.4,481.4 L707.2,481.4 L708.0,481.4 L708.8,481.4 L709.6,481.3 L710.4,481.3 L711.2,481.3 L712.0,481.3 L712.8,481.3 L713.6,481.3 L714.4,481.3 L715.2,481.3 L716.0,481.3 L716.8,481.3 L717.6,481.3 L718.4,481.3 L719.2,481.3 L720.0,481.3 L720.8,481.3 L721.7,481.3 L722.5,481.3 L723.3,481.3 L724.1,481.3 L724.9,481.3 L725.7,481.3 L726.5,481.3 L727.3,481.3 L728.1,481.3 L728.9,481.3 L729.7,481.3 L730.5,481.3 L731.3,481.3 L732.1,481.3 L732.9,481.3 L733.7,481.3 L734.5,481.3 L735.3,481.3 L736.1,481.3 L736.9,481.3 L737.7,481.2 L738.5,481.2 L739.3,481.2 L740.1,481.2 L740.9,481.2 L741.7,481.2 L742.5,481.2 L743.3,481.2 L744.1,481.2 L744.9,481.2 L745.7,481.2 L746.5,481.2 L747.3,481.2 L748.1,481.2 L748.9,481.2 L749.7,481.2 L750.5,481.1 L751.3,481.1 L752.1,481.1 L752.9,481.1 L753.7,481.1 L754.5,481.1 L755.3,481.1 L756.1,481.1 L756.9,481.1 L757.7,481.1 L758.5,481.1 L759.3,481.0 L760.1,481.0 L760.9,481.0 L761.7,481.0 L762.5,481.0 L763.3,481.0 L764.1,481.0 L764.9,481.0 L765.8,480.9 L766.6,480.9 L767.4,480.9 L768.2,480.9 L769.0,480.9 L769.8,480.9 L770.6,480.8 L771.4,480.8 L772.2,480.8 L773.0,480.8 L773.8,480.8 L774.6,480.8 L775.4,480.7 L776.2,480.7 L777.0,480.7 L777.8,480.7 L778.6,480.6 L779.4,480.6 L780.2,480.6 L781.0,480.6 L781.8,480.5 L782.6,480.5 L783.4,480.5 L784.2,480.5 L785.0,480.4 L785.8,480.4 L786.6,480.4 L787.4,480.3 L788.2,480.3 L789.0,480.3 L789.8,480.2 L790.6,480.2 L791.4,480.1 L792.2,480.1 L793.0,480.1 L793.8,480.0 L794.6,480.0 L795.4,479.9 L796.2,479.9 L797.0,479.8 L797.8,479.8 L798.6,479.7 L799.4,479.7 L800.2,479.6 L801.0,479.6 L801.8,479.5 L802.6,479.4 L803.4,479.4 L804.2,479.3 L805.0,479.2 L805.8,479.2 L806.6,479.1 L807.4,479.0 L808.2,479.0 L809.0,478.9 L809.8,478.8 L810.7,478.7 L811.5,478.6 L812.3,478.5 L813.1,478.4 L813.9,478.4 L814.7,478.3 L815.5,478.2 L816.3,478.0 L817.1,477.9 L817.9,477.8 L818.7,477.7 L819.5,477.6 L820.3,477.5 L821.1,477.4 L821.9,477.2 L822.7,477.1 L823.5,477.0 L824.3,476.8 L825.1,476.7 L825.9,476.5 L826.7,476.4 L827.5,476.2 L828.3,476.0 L829.1,475.9 L829.9,475.7 L830.7,475.5 L831.5,475.3 L832.3,475.1 L833.1,474.9 L833.9,474.7 L834.7,474.5 L835.5,474.3 L836.3,474.1 L837.1,473.8 L837.9,473.6 L838.7,473.3 L839.5,473.1 L840.3,472.8 L841.1,472.5 L841.9,472.3 L842.7,472.0 L843.5,471.7 L844.3,471.4 L845.1,471.1 L845.9,470.7 L846.7,470.4 L847.5,470.0 L848.3,469.7 L849.1,469.3 L849.9,468.9 L850.7,468.5 L851.5,468.1 L852.3,467.7 L853.1,467.3 L853.9,466.9 L854.8,466.4 L855.6,465.9 L856.4,465.4 L857.2,464.9 L858.0,464.4 L858.8,463.9 L859.6,463.4 L860.4,462.8 L861.2,462.2 L862.0,461.6 L862.8,461.0 L863.6,460.4 L864.4,459.7 L865.2,459.1 L866.0,458.4 L866.8,457.7 L867.6,456.9 L868.4,456.2 L869.2,455.4 L870.0,454.6 L870.8,453.8 L871.6,452.9 L872.4,452.1 L873.2,451.2 L874.0,450.3 L874.8,449.3 L875.6,448.4 L876.4,447.4 L877.2,446.3 L878.0,445.3 L878.8,444.2 L879.6,443.1 L880.4,441.9 L881.2,440.8 L882.0,439.6 L882.8,438.3 L883.6,437.0 L884.4,435.7 L885.2,434.4 L886.0,433.0 L886.8,431.6 L887.6,430.2 L888.4,428.7 L889.2,427.1 L890.0,425.6 L890.8,424.0 L891.6,422.3 L892.4,420.7 L893.2,418.9 L894.0,417.2 L894.8,415.4 L895.6,413.5 L896.4,411.6 L897.2,409.7 L898.0,407.7 L898.8,405.7 L899.7,403.6 L900.5,401.5 L901.3,399.4 L902.1,397.2 L902.9,394.9 L903.7,392.7 L904.5,390.3 L905.3,388.0 L906.1,385.5 L906.9,383.1 L907.7,380.6 L908.5,378.0 L909.3,375.5 L910.1,372.8 L910.9,370.2 L911.7,367.5 L912.5,364.7 L913.3,362.0 L914.1,359.1 L914.9,356.3 L915.7,353.4 L916.5,350.5 L917.3,347.6 L918.1,344.7 L918.9,341.7 L919.7,338.7 L920.5,335.7 L921.3,332.7 L922.1,329.7 L922.9,326.6 L923.7,323.6 L924.5,320.6 L925.3,317.6 L926.1,314.6 L926.9,311.6 L927.7,308.7 L928.5,305.7 L929.3,302.8 L930.1,300.0 L930.9,297.2 L931.7,294.4 L932.5,291.8 L933.3,289.2 L934.1,286.6 L934.9,284.2 L935.7,281.8 L936.5,279.5 L937.3,277.4 L938.1,275.4 L938.9,273.4 L939.7,271.7 L940.5,270.0 L941.3,268.5 L942.1,267.2 L942.9,266.1 L943.7,265.1 L944.6,264.3 L945.4,263.7 L946.2,263.3 L947.0,263.1 L947.8,263.1 L948.6,263.4 L949.4,263.8 L950.2,264.5 L951.0,265.5 L951.8,266.7 L952.6,268.1 L953.4,269.8 L954.2,271.8 L955.0,274.0 L955.8,276.4 L956.6,279.1 L957.4,282.1 L958.2,285.3 L959.0,288.8 L959.8,292.5 L960.6,296.4 L961.4,300.6 L962.2,304.9 L963.0,309.5 L963.8,314.3 L964.6,319.2 L965.4,324.3 L966.2,329.6 L967.0,335.0 L967.8,340.5 L968.6,346.1 L969.4,351.8 L970.2,357.6 L971.0,363.3 L971.8,369.1 L972.6,374.9 L973.4,380.7 L974.2,386.4 L975.0,392.1 L975.8,397.7 L976.6,403.1 L977.4,408.5 L978.2,413.7 L979.0,418.7 L979.8,423.6 L980.6,428.3 L981.4,432.8 L982.2,437.1 L983.0,441.1 L983.8,445.0 L984.6,448.6 L985.4,452.0 L986.2,455.1 L987.0,458.0 L987.8,460.7 L988.7,463.2 L989.5,465.5 L990.3,467.5 L991.1,469.4 L991.9,471.1 L992.7,472.5 L993.5,473.9 L994.3,475.0 L995.1,476.0 L995.9,476.9 L996.7,477.7 L997.5,478.3 L998.3,478.9 L999.1,479.4 L999.9,479.8 L1000.7,480.1 L1001.5,480.4 L1002.3,480.6 L1003.1,480.8 L1003.9,480.9 L1004.7,481.0 L1005.5,481.1 L1006.3,481.2 L1007.1,481.2 L1007.9,481.3 L1008.7,481.3 L1009.5,481.3 L1010.3,481.4 L1011.1,481.4 L1011.9,481.4 L1012.7,481.4 L1013.5,481.4 L1014.3,481.4 L1015.1,481.4 L1015.9,481.4 L1016.7,481.4 L1017.5,481.4 L1018.3,481.4 L1019.1,481.4 L1019.9,481.4 L1020.7,481.4 L1021.5,481.4 L1022.3,481.4 L1023.1,481.4 L1023.9,481.4 L1024.7,481.4 L1025.5,481.4 L1026.3,481.4 L1027.1,481.4 L1027.9,481.4 L1028.7,481.4 L1029.5,481.4 L1030.3,481.4 L1031.1,481.4 L1031.9,481.4 L1032.7,481.4 L1033.6,481.4 L1034.4,481.4 L1035.2,481.4 L1036.0,481.4 L1036.8,481.4 L1037.6,481.4 L1038.4,481.4 L1039.2,481.4 L1040.0,481.4 L1040.8,481.4 L1041.6,481.4 L1042.4,481.4 L1043.2,481.4 L1044.0,481.4 L1044.8,481.4 L1045.6,481.4 L1046.4,481.4 L1047.2,481.4 L1048.0,481.4 L1048.8,481.4 L1049.6,481.4 L1050.4,481.4 L1051.2,481.4 L1052.0,481.4 L1052.8,481.4 L1053.6,481.4 L1054.4,481.4 L1055.2,481.4" fill="none" stroke="#3a3a3a" stroke-width="2.9" stroke-linejoin="round"/>
<rect x="654.3" y="81.2" width="400.9" height="400.2" fill="none" stroke="#444" stroke-width="3.4"/>
<line x1="654.3" y1="392.5" x2="659.9" y2="392.5" stroke="#444" stroke-width="2.2"/>
<line x1="654.3" y1="303.5" x2="659.9" y2="303.5" stroke="#444" stroke-width="2.2"/>
<line x1="654.3" y1="214.6" x2="659.9" y2="214.6" stroke="#444" stroke-width="2.2"/>
<line x1="654.3" y1="125.7" x2="659.9" y2="125.7" stroke="#444" stroke-width="2.2"/>
<text x="638" y="487.8" font-size="42" text-anchor="end" fill="#000">0</text>
<text x="644" y="397.3" font-size="42" text-anchor="end" fill="#000">0.1</text>
<text x="644.3" y="313.4" font-size="42" text-anchor="end" fill="#000">0.2</text>
<text x="644.3" y="232.9" font-size="42" text-anchor="end" fill="#000">0.3</text>
<text x="644.3" y="141.1" font-size="42" text-anchor="end" fill="#000">0.4</text>
<text x="648" y="526" font-size="42" text-anchor="middle" fill="#000">0</text>
<text x="729.4" y="526" font-size="42" text-anchor="middle" fill="#000">5</text>
<text x="809.9" y="526" font-size="42" text-anchor="middle" fill="#000">10</text>
<text x="891.4" y="526" font-size="42" text-anchor="middle" fill="#000">15</text>
<text x="973" y="526" font-size="42" text-anchor="middle" fill="#000">20</text>
<text x="1054.5" y="526" font-size="42" text-anchor="middle" fill="#000">25</text>
<text x="569.3" y="278.9" font-size="42" text-anchor="middle" fill="#000" transform="rotate(-90 569.3 278.9)">Probability</text>
<text x="866" y="568.7" font-size="42" text-anchor="middle" fill="#000">Force (pN)</text>
<rect x="740.5" y="107.5" width="38.1" height="38.1" rx="6.2" ry="6.2" fill="url(#chk)" stroke="#3b6fa6" stroke-width="3.9"/>
<circle cx="749.7" cy="135.3" r="9.8" fill="#fff"/>
<line x1="785.9" y1="121.8" x2="816.7" y2="121.8" stroke="#666" stroke-width="1.8"/>
<text x="823" y="129.6" font-size="24.8" fill="#000">+ cAMP</text>
<line x1="910.2" y1="123.4" x2="916" y2="123.4" stroke="#777" stroke-width="1.8"/>
<path d="M914.2,116.2 L938,123.6 L914.2,131.2 Z" fill="#7f7f7f"/>
<rect x="952.2" y="104" width="36.7" height="36.7" rx="6.2" ry="6.2" fill="url(#chk)" stroke="#3b6fa6" stroke-width="3.9"/>
<circle cx="961.4" cy="130.6" r="9.2" fill="#ee7d31" stroke="#c0601a" stroke-width="3.4"/>
<line x1="1223.5" y1="139.5" x2="1611.8" y2="484.7" stroke="#0c2a52" stroke-width="2.0" stroke-dasharray="21 12"/>
<line x1="1223.5" y1="180" x2="1417.3" y2="484.7" stroke="#1d5a9c" stroke-width="1.8" stroke-dasharray="20.5 10.5"/>
<rect x="1280.8" y="266.4" width="13.2" height="13.2" fill="#1e5fa2"/>
<rect x="1296.3" y="307.1" width="13.2" height="13.2" fill="#1e5fa2"/>
<rect x="1313.4" y="322.5" width="13.2" height="13.2" fill="#1e5fa2"/>
<rect x="1329.7" y="349.5" width="13.2" height="13.2" fill="#1e5fa2"/>
<rect x="1344.3" y="368.4" width="13.2" height="13.2" fill="#1e5fa2"/>
<rect x="1361.8" y="400.1" width="13.2" height="13.2" fill="#1e5fa2"/>
<rect x="1377.7" y="422" width="13.2" height="13.2" fill="#1e5fa2"/>
<rect x="1417.3" y="313.1" width="13.2" height="13.2" fill="#0b2f5b"/>
<rect x="1433.3" y="327.4" width="13.2" height="13.2" fill="#0b2f5b"/>
<rect x="1449" y="333.8" width="13.2" height="13.2" fill="#0b2f5b"/>
<rect x="1465" y="356.5" width="13.2" height="13.2" fill="#0b2f5b"/>
<rect x="1481" y="367.8" width="13.2" height="13.2" fill="#0b2f5b"/>
<rect x="1497.3" y="382.1" width="13.2" height="13.2" fill="#0b2f5b"/>
<rect x="1513.3" y="400.1" width="13.2" height="13.2" fill="#0b2f5b"/>
<rect x="1529.3" y="414.1" width="13.2" height="13.2" fill="#0b2f5b"/>
<rect x="1545.1" y="424.9" width="13.2" height="13.2" fill="#0b2f5b"/>
<rect x="1223.5" y="84.5" width="400.5" height="400.2" fill="none" stroke="#444" stroke-width="3.4"/>
<line x1="1303.6" y1="484.7" x2="1303.6" y2="478.2" stroke="#444" stroke-width="2.4"/>
<line x1="1383.7" y1="484.7" x2="1383.7" y2="478.2" stroke="#444" stroke-width="2.4"/>
<line x1="1463.8" y1="484.7" x2="1463.8" y2="478.2" stroke="#444" stroke-width="2.4"/>
<line x1="1543.9" y1="484.7" x2="1543.9" y2="478.2" stroke="#444" stroke-width="2.4"/>
<line x1="1223.5" y1="370.4" x2="1229.1" y2="370.4" stroke="#444" stroke-width="2.2"/>
<line x1="1223.5" y1="256" x2="1229.1" y2="256" stroke="#444" stroke-width="2.2"/>
<line x1="1223.5" y1="141.7" x2="1229.1" y2="141.7" stroke="#444" stroke-width="2.2"/>
<text x="1166.4" y="153.4" font-size="35" fill="#000">10</text>
<text x="1203.2" y="126.7" font-size="20.5" fill="#555">4</text>
<text x="1166.4" y="269.3" font-size="35" fill="#000">10</text>
<text x="1203.5" y="253.7" font-size="20.5" fill="#555">2</text>
<text x="1166.4" y="382.2" font-size="35" fill="#000">10</text>
<text x="1203.4" y="355.3" font-size="20.5" fill="#555">0</text>
<text x="1166.4" y="497" font-size="35" fill="#000">10</text>
<text x="1199.9" y="471.9" font-size="20.5" fill="#555">-2</text>
<text x="1225.8" y="526.8" font-size="42" text-anchor="middle" fill="#000">0</text>
<text x="1306" y="526.8" font-size="42" text-anchor="middle" fill="#000">5</text>
<text x="1385.1" y="526.8" font-size="42" text-anchor="middle" fill="#000">10</text>
<text x="1464.7" y="526.8" font-size="42" text-anchor="middle" fill="#000">15</text>
<text x="1544.3" y="526.8" font-size="42" text-anchor="middle" fill="#000">20</text>
<text x="1623.1" y="526.8" font-size="42" text-anchor="middle" fill="#000">25</text>
<text x="1149.8" y="289.3" font-size="41.6" text-anchor="middle" fill="#000" transform="rotate(-90 1149.8 289.3)">Folded lifetime (s)</text>
<text x="1439" y="571.4" font-size="42" text-anchor="middle" fill="#000">Force (pN)</text>
</svg></body></html>
